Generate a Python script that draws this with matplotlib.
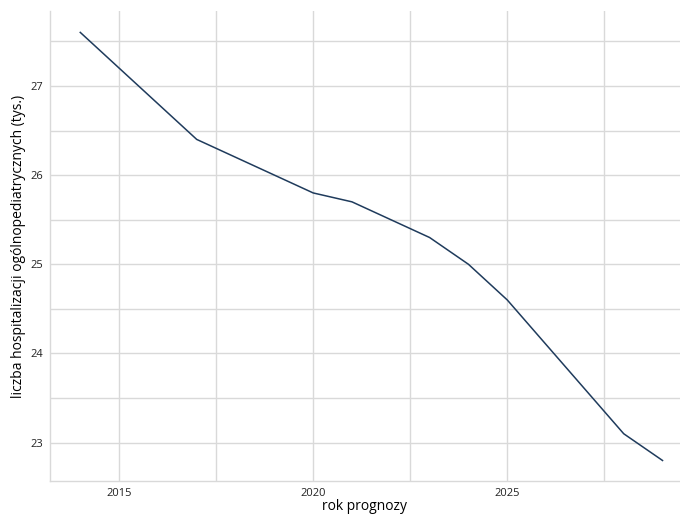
import matplotlib.pyplot as plt
from matplotlib.ticker import MultipleLocator

# forecast years and hospitalisations (thousands)
years = [2014, 2015, 2016, 2017, 2018, 2019, 2020, 2021, 2022, 2023, 2024, 2025, 2026, 2027, 2028, 2029]
hosp = [27.6, 27.2, 26.8, 26.4, 26.2, 26.0, 25.8, 25.7, 25.5, 25.3, 25.0, 24.6, 24.1, 23.6, 23.1, 22.8]

plt.rcParams['font.family'] = ['Open Sans', 'DejaVu Sans']

fig = plt.figure(figsize=(6.8, 5.15), dpi=100)
ax = fig.add_axes([50 / 680, 1 - 481 / 515, 630 / 680, 470 / 515])

ax.plot(years, hosp, color='#1f3b5c', linewidth=1.1, zorder=3)

ax.set_xlim(2013.22, 2029.45)
ax.set_ylim(22.57, 27.84)
ax.xaxis.set_major_locator(MultipleLocator(5))
ax.xaxis.set_minor_locator(MultipleLocator(2.5))
ax.yaxis.set_major_locator(MultipleLocator(1))
ax.yaxis.set_minor_locator(MultipleLocator(0.5))
ax.grid(True, which='both', color='#d9d9d9', linewidth=1.0)
ax.set_axisbelow(True)

for side in ['top', 'right']:
    ax.spines[side].set_visible(False)
for side in ['left', 'bottom']:
    ax.spines[side].set_color('#d9d9d9')
    ax.spines[side].set_linewidth(1.0)

ax.tick_params(which='both', length=0, labelsize=8, colors='#222222', pad=5)
ax.tick_params(axis='y', pad=5)

ax.set_xlabel('rok prognozy', fontsize=10, labelpad=0)
ax.set_ylabel('liczba hospitalizacji ogólnopediatrycznych (tys.)', fontsize=10, labelpad=3)

fig.savefig('out.png', dpi=100)
